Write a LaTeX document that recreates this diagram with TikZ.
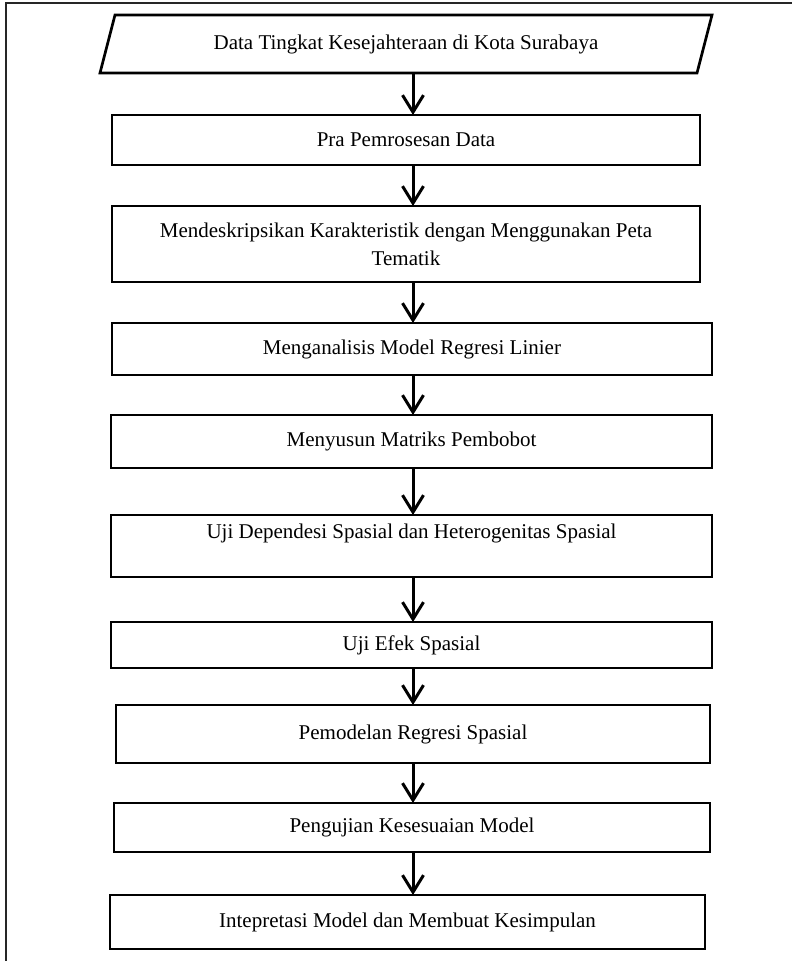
\documentclass[tikz,border=0pt]{standalone}
\usepackage{fontspec}
\setmainfont{Liberation Serif}
\usetikzlibrary{arrows.meta,calc}
\begin{document}
\begin{tikzpicture}[x=1pt,y=-1pt,
  boxline/.style={line width=2.7pt,draw=black},
  stepbox/.style={boxline,rectangle,inner sep=0pt,outer sep=0pt,align=center,
    font=\fontsize{21}{28}\selectfont},
  txt/.style={inner sep=0pt,outer sep=0pt,align=center,font=\fontsize{21}{28}\selectfont},
  flow/.style={line width=3pt,-{Straight Barb[length=17pt,width=21pt,line width=3pt]}},
  frame/.style={line width=2pt,draw=black!85}]
\useasboundingbox (0,0) rectangle (792,961);
% outer frame (only left and top edges visible)
\coordinate (ftl) at (6,3);
\coordinate (ftr) at (792,3);
\coordinate (fbl) at (6,961);
\draw[frame] (fbl) -- (ftl) -- (ftr);
% arrow axis
\coordinate (ax) at (413,0);
% input parallelogram
\node[txt,minimum width=597pt,minimum height=58pt] (n1) at (406,44) {Data Tingkat Kesejahteraan di Kota Surabaya};
\draw[boxline,line join=miter]
  ([xshift=7.5pt]n1.north west) -- ([xshift=7.5pt]n1.north east) --
  ([xshift=-7.5pt]n1.south east) -- ([xshift=-7.5pt]n1.south west) -- cycle;
% process boxes
\node[stepbox,minimum width=588pt,minimum height=50pt] (n2) at (406,140) {Pra Pemrosesan Data};
\node[stepbox,minimum width=588pt,minimum height=76pt] (n3) at (406,244) {Mendeskripsikan Karakteristik dengan Menggunakan Peta\\Tematik};
\node[stepbox,minimum width=600pt,minimum height=52pt] (n4) at (412,349) {Menganalisis Model Regresi Linier};
\node[stepbox,minimum width=601pt,minimum height=53pt] (n5) at (411.5,441.5) {Menyusun Matriks Pembobot};
\node[stepbox,minimum width=601pt,minimum height=62pt,text depth=30pt] (n6) at (411.5,546) {Uji Dependesi Spasial dan Heterogenitas Spasial};
\node[stepbox,minimum width=601pt,minimum height=46pt] (n7) at (411.5,645) {Uji Efek Spasial};
\node[stepbox,minimum width=594pt,minimum height=58pt] (n8) at (413,734) {Pemodelan Regresi Spasial};
\node[stepbox,minimum width=596pt,minimum height=49pt] (n9) at (412,827.5) {Pengujian Kesesuaian Model};
\node[stepbox,minimum width=595pt,minimum height=54pt] (n10) at (407.5,922) {Intepretasi Model dan Membuat Kesimpulan};
% connectors
\foreach \a/\b in {n1/n2,n2/n3,n3/n4,n4/n5,n5/n6,n6/n7,n7/n8,n8/n9,n9/n10}{
  \draw[flow] (\a.south -| ax) -- (\b.north -| ax);
}
\end{tikzpicture}
\end{document}
